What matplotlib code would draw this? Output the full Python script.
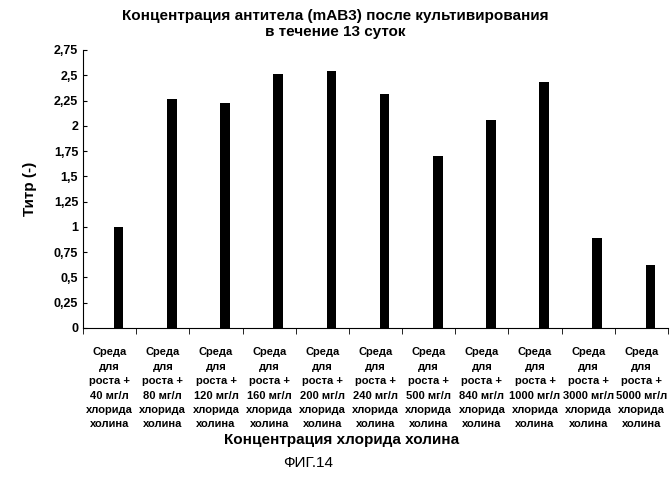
import matplotlib
matplotlib.use("Agg")
import matplotlib.pyplot as plt
import numpy as np

plt.rcParams["font.family"] = "Liberation Sans"

concs = ["40", "80", "120", "160", "200", "240", "500", "840", "1000", "3000", "5000"]
values = [1.0, 2.27, 2.23, 2.51, 2.54, 2.31, 1.70, 2.06, 2.43, 0.89, 0.62]
yticks = [0, 0.25, 0.5, 0.75, 1, 1.25, 1.5, 1.75, 2, 2.25, 2.5, 2.75]
ytick_labels = ["0", "0,25", "0,5", "0,75", "1", "1,25", "1,5", "1,75", "2", "2,25", "2,5", "2,75"]

fig = plt.figure(figsize=(6.7, 5), dpi=100)
ax = fig.add_axes([0.124, 0.344, 0.873, 0.556])
x = np.arange(len(values))
ax.bar(x + 0.17, values, width=0.18, color="black")
ax.set_xlim(-0.5, len(values) - 0.5)
ax.set_ylim(0, 2.75)
ax.set_yticks(yticks)
ax.set_yticklabels(ytick_labels, fontsize=9, fontweight="bold")
ax.set_xticks(x)
labels = [f"Среда\nдля\nроста +\n{c} мг/л\nхлорида\nхолина" for c in concs]
ax.set_xticklabels(labels, fontsize=8, fontweight="bold", linespacing=1.55)
ax.set_xticks(np.arange(len(values) + 1) - 0.5, minor=True)
ax.tick_params(axis="x", which="major", length=0, pad=14)
ax.tick_params(axis="x", which="minor", length=4, direction="out")
ax.tick_params(axis="y", direction="in", length=3)
for s in ["top", "right"]:
    ax.spines[s].set_visible(False)
ax.set_ylabel("Титр (-)", fontsize=11, fontweight="bold", labelpad=12)
fig.text(0.5, 0.952, "Концентрация антитела (mAB3) после культивирования\nв течение 13 суток",
         ha="center", va="center", fontsize=11, fontweight="bold", linespacing=1.2)
fig.text(0.51, 0.12, "Концентрация хлорида холина", ha="center", va="center",
         fontsize=11, fontweight="bold")
fig.text(0.46, 0.074, "ФИГ.14", ha="center", va="center", fontsize=11)
fig.savefig("out.png", dpi=100)
